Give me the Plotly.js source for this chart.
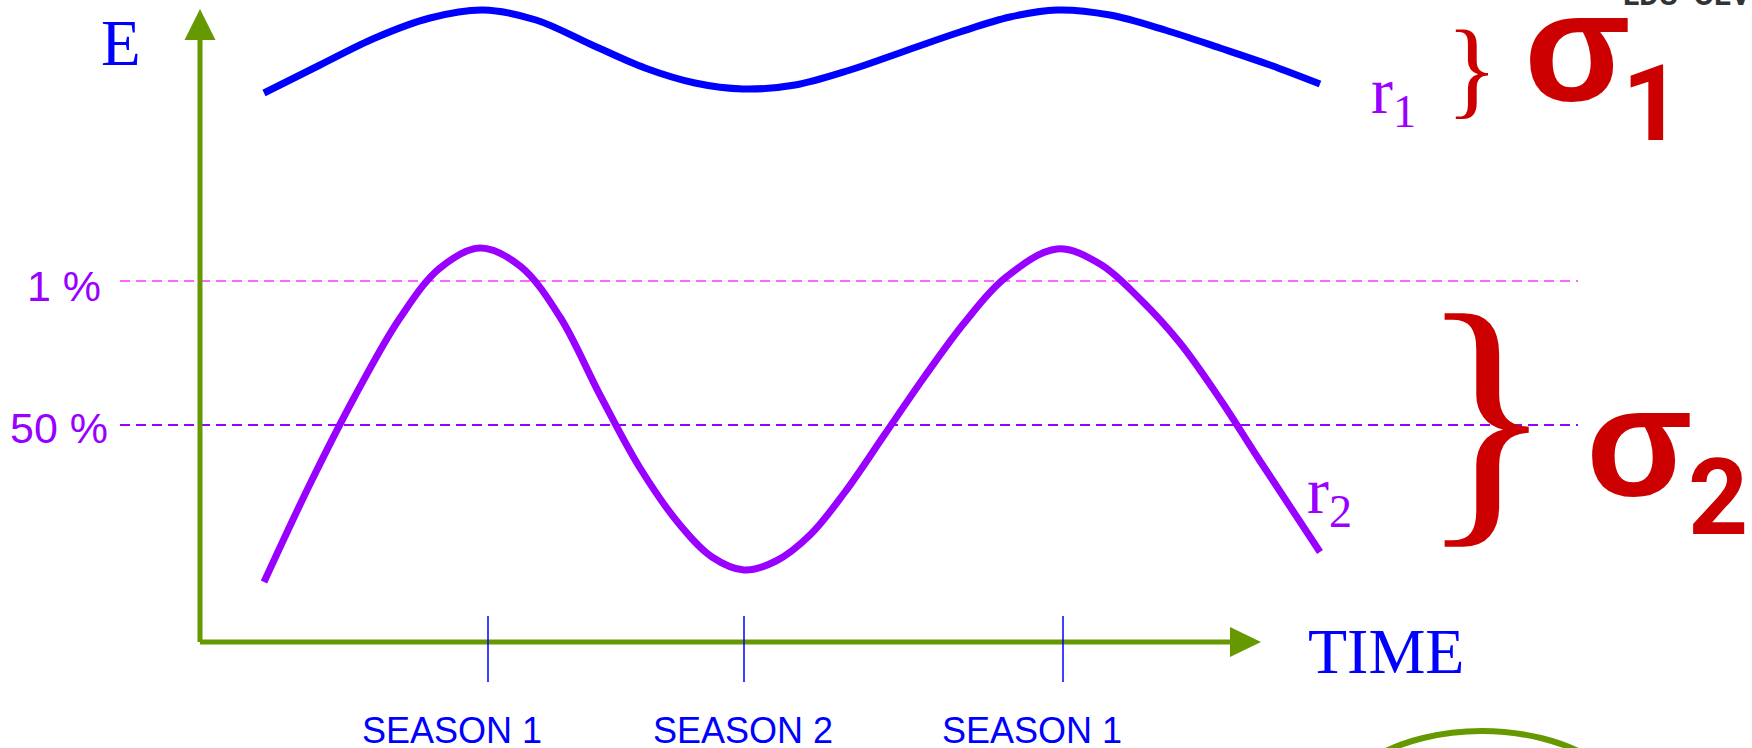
<!DOCTYPE html>
<html>
<head>
<meta charset="utf-8">
<script src="https://cdn.plot.ly/plotly-3.0.1.min.js"></script>
<style>
  html, body { margin: 0; padding: 0; background: #ffffff; overflow: hidden; }
  #chart { width: 1752px; height: 748px; }
</style>
</head>
<body>
<div id="chart"></div>
<script>
// ---- data (time units along the TIME axis, E units along the E axis) ----
const timeR1 = [0.64, 1.20, 1.75, 2.30, 2.83, 3.36, 3.90, 4.45, 4.95, 5.43, 5.95, 6.50, 7.05, 7.60, 8.10, 8.57, 9.10, 9.65, 10.20, 10.70, 11.20];
const energyR1 = [5.49, 5.77, 6.04, 6.24, 6.32, 6.22, 5.98, 5.74, 5.59, 5.53, 5.57, 5.72, 5.91, 6.10, 6.25, 6.32, 6.27, 6.12, 5.94, 5.77, 5.58];

const timeR2 = [0.64, 1.10, 1.55, 2.00, 2.40, 2.80, 3.20, 3.60, 4.00, 4.40, 4.80, 5.12, 5.44, 5.76, 6.10, 6.45, 6.85, 7.25, 7.65, 8.05, 8.57, 9.00, 9.40, 9.80, 10.20, 10.60, 11.20];
const energyR2 = [0.60, 1.58, 2.46, 3.24, 3.74, 3.94, 3.76, 3.25, 2.47, 1.74, 1.17, 0.85, 0.72, 0.81, 1.07, 1.50, 2.08, 2.66, 3.20, 3.64, 3.93, 3.78, 3.43, 2.99, 2.43, 1.81, 0.90];

const thresholdLabels = ['1 %', '50 %'];
const thresholdValues = [3.61, 2.17];

const seasonTicks = [2.88, 5.44, 8.63];
const seasonLabelPos = [2.52, 5.43, 8.32];
const seasonLabels = ['SEASON 1', 'SEASON 2', 'SEASON 1'];

const curveNames = ['r<sub>1</sub>', 'r<sub>2</sub>'];
const sigmaSymbol = 'σ';
const sigmaIndex = ['1', '2'];

// ---- layout helpers (canvas pixel -> axis units; 100 px per unit) ----
const W = 1752, H = 748;
const X0 = -2.0, Y0 = 6.42;           // axis value at left / top edge
const X = p => X0 + p / 100;
const Y = p => Y0 - p / 100;
const PY = p => 1 - p / H;            // pixel -> paper fraction

const GREEN = '#669900', BLUE = '#0000ff', PURPLE = '#9900ff', PINK = '#ff66ff', RED = '#cc0000';
const SERIF = '"Liberation Serif", "Times New Roman", serif';
const SANS = '"Liberation Sans", Arial, sans-serif';
const SANS_BOLD = 'Roboto, "Liberation Sans", Arial, sans-serif';
const SIGMA_FONT = 'Arial, "Liberation Sans", sans-serif';

const traces = [
  { x: timeR1, y: energyR1, type: 'scatter', mode: 'lines',
    line: { color: BLUE, width: 7, shape: 'spline', smoothing: 1 }, hoverinfo: 'skip', showlegend: false },
  { x: timeR2, y: energyR2, type: 'scatter', mode: 'lines',
    line: { color: PURPLE, width: 7, shape: 'spline', smoothing: 1 }, hoverinfo: 'skip', showlegend: false }
];

const shapes = [];
// threshold dashed lines
const thrColors = [PINK, PURPLE];
thresholdValues.forEach((v, i) => {
  shapes.push({ type: 'line', xref: 'x', yref: 'y', x0: X(120), x1: X(1578), y0: v, y1: v,
    line: { color: thrColors[i], width: 2, dash: '10px,6px' }, layer: 'below' });
});
// axes (green) with arrow heads
shapes.push({ type: 'line', xref: 'x', yref: 'y', x0: 0, x1: X(1232), y0: 0, y1: 0,
  line: { color: GREEN, width: 5 } });
shapes.push({ type: 'path', xref: 'x', yref: 'y',
  path: `M ${X(1230)} ${Y(627)} L ${X(1261)} ${Y(642)} L ${X(1230)} ${Y(657)} Z`,
  fillcolor: GREEN, line: { color: GREEN, width: 0 } });
shapes.push({ type: 'line', xref: 'x', yref: 'y', x0: 0, x1: 0, y0: 0, y1: Y(38),
  line: { color: GREEN, width: 5 } });
shapes.push({ type: 'path', xref: 'x', yref: 'y',
  path: `M ${X(184.5)} ${Y(40)} L ${X(200)} ${Y(9)} L ${X(215.5)} ${Y(40)} Z`,
  fillcolor: GREEN, line: { color: GREEN, width: 0 } });
// season tick marks
seasonTicks.forEach(t => {
  shapes.push({ type: 'line', xref: 'x', yref: 'y', x0: t, x1: t, y0: Y(616), y1: Y(682),
    line: { color: BLUE, width: 1.5 } });
});
// green ellipse partially visible at bottom right
shapes.push({ type: 'circle', xref: 'x', yref: 'y', x0: X(1322), x1: X(1642), y0: Y(731), y1: Y(931),
  line: { color: GREEN, width: 6 }, fillcolor: 'rgba(0,0,0,0)' });

const annotations = [];
const ann = (o) => annotations.push(Object.assign({ xref: 'x', yref: 'y', showarrow: false,
  borderpad: 0, borderwidth: 0 }, o));

ann({ x: X(120.5), y: Y(43), text: 'E', xanchor: 'center', yanchor: 'middle',
  font: { family: SERIF, size: 65, color: BLUE } });
ann({ x: X(1386), y: Y(651.5), text: 'TIME', xanchor: 'center', yanchor: 'middle',
  font: { family: SERIF, size: 64, color: BLUE } });

// threshold labels
const thrLabelRight = [101, 108];
const thrLabelMid = [286, 428];
thresholdLabels.forEach((s, i) => {
  ann({ x: X(thrLabelRight[i]), y: Y(thrLabelMid[i]), text: s, xanchor: 'right', yanchor: 'middle',
    font: { family: SANS, size: 43, color: PURPLE } });
});

// season labels
seasonLabels.forEach((s, i) => {
  ann({ x: seasonLabelPos[i], y: Y(730), text: s, xanchor: 'center', yanchor: 'middle',
    font: { family: SANS, size: 36, color: BLUE } });
});

// curve names
ann({ x: X(1371), y: Y(54), text: curveNames[0], xanchor: 'left', yanchor: 'top',
  font: { family: SERIF, size: 66, color: PURPLE } });
ann({ x: X(1307), y: Y(454), text: curveNames[1], xanchor: 'left', yanchor: 'top',
  font: { family: SERIF, size: 66, color: PURPLE } });

// braces
ann({ x: X(1472), y: Y(68), text: '}', xanchor: 'center', yanchor: 'middle',
  font: { family: SERIF, size: 108, color: RED } });
ann({ x: X(1486), y: Y(413.5), text: '}', xanchor: 'center', yanchor: 'middle',
  font: { family: SERIF, size: 282, color: RED } });

// sigma labels (symbol + lowered index)
const sigmaX = [1577, 1639], sigmaMid = [46, 441];
const indexX = [1651.5, 1717.5], indexMid = [104.5, 498];
[0, 1].forEach(i => {
  ann({ x: X(sigmaX[i]), y: Y(sigmaMid[i]), text: sigmaSymbol, xanchor: 'center', yanchor: 'middle',
    font: { family: SIGMA_FONT, size: 156, color: RED, weight: 700 } });
  ann({ x: X(indexX[i]), y: Y(indexMid[i]), text: sigmaIndex[i], xanchor: 'center', yanchor: 'middle',
    font: { family: SANS_BOLD, size: 105, color: RED, weight: 700 } });
});

// cut-off header text at top right
annotations.push({ xref: 'x', yref: 'paper', x: X(1623), y: PY(12), text: 'LDU  OEV',
  xanchor: 'left', yanchor: 'bottom', showarrow: false, borderpad: 0, borderwidth: 0,
  font: { family: SANS_BOLD, size: 30, color: '#333333', weight: 700 } });

const layout = {
  width: W, height: H,
  margin: { l: 0, r: 0, t: 0, b: 0, pad: 0 },
  paper_bgcolor: '#ffffff', plot_bgcolor: '#ffffff',
  xaxis: { range: [X0, X0 + W / 100], visible: false, fixedrange: true },
  yaxis: { range: [Y0 - H / 100, Y0], visible: false, fixedrange: true },
  shapes: shapes,
  annotations: annotations,
  showlegend: false
};

Plotly.newPlot('chart', traces, layout, { staticPlot: true, displayModeBar: false });
</script>
</body>
</html>
